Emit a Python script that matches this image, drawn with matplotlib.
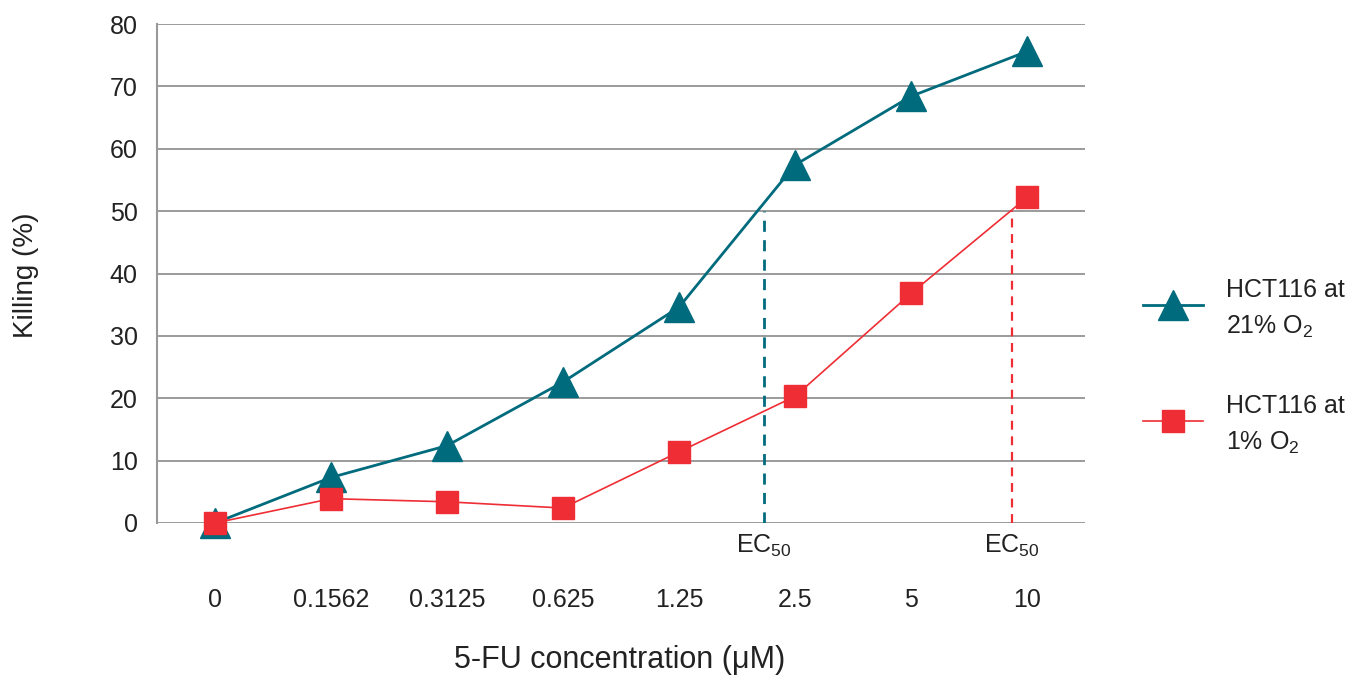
import matplotlib
matplotlib.use("Agg")
import matplotlib.pyplot as plt
from matplotlib.lines import Line2D

plt.rcParams['font.family'] = ['Liberation Sans', 'DejaVu Sans']

concentrations = ["0", "0.1562", "0.3125", "0.625", "1.25", "2.5", "5", "10"]
killing_21 = [0, 7.3, 12.4, 22.6, 34.6, 57.4, 68.4, 75.6]
killing_1 = [0, 3.9, 3.4, 2.4, 11.4, 20.3, 36.8, 52.2]
ec50_21_pos = 4.73
ec50_1_pos = 6.87
ec50_level = 50
yticks = [0, 10, 20, 30, 40, 50, 60, 70, 80]
legend_labels = ["HCT116 at\n21% O$_\\mathregular{2}$", "HCT116 at\n1% O$_\\mathregular{2}$"]

teal = "#006B7D"
red = "#EE2D34"
grid_c = "#8a8a8a"
text_c = "#222222"

W, H = 1360, 675
fig = plt.figure(figsize=(W/100, H/100), dpi=100)
ax = fig.add_axes([157/W, 1 - 523/H, (1085-157)/W, (523-24)/H])

x = list(range(len(concentrations)))
ax.plot(x, killing_21, color=teal, lw=2, marker='^', ms=21, mec=teal, mfc=teal, zorder=4, clip_on=False)
ax.plot(x, killing_1, color=red, lw=1.2, marker='s', ms=15.5, mec=red, mfc=red, zorder=5, clip_on=False)

ax.plot([ec50_21_pos, ec50_21_pos], [0, ec50_level], color=teal, ls=(0, (4, 3)), lw=2, zorder=3)
ax.plot([ec50_1_pos, ec50_1_pos], [0, ec50_level], color=red, ls=(0, (4, 3)), lw=1.6, zorder=3)

ax.set_xlim(-0.5, 7.5)
ax.set_ylim(0, 80)
ax.set_yticks(yticks)
ax.set_yticklabels([str(v) for v in yticks], fontsize=18, color=text_c)
ax.set_xticks(x)
ax.set_xticklabels(concentrations, fontsize=18, color=text_c)
ax.tick_params(axis='both', length=0)
ax.tick_params(axis='x', pad=47)
ax.tick_params(axis='y', pad=14)
ax.yaxis.grid(True, color=grid_c, lw=1.2)
ax.set_axisbelow(True)
for s in ['top', 'right', 'bottom']:
    ax.spines[s].set_visible(False)
ax.spines['left'].set_color("#999999")
ax.spines['left'].set_linewidth(1.5)

for pos in [ec50_21_pos, ec50_1_pos]:
    ax.text(pos, -1.6, r"EC$_\mathregular{50}$", ha='center', va='top', fontsize=18, color=text_c)

fig.text(620/W, 1 - 660/H, "5-FU concentration (μM)", ha='center', va='center', fontsize=22, color=text_c)
fig.text(26/W, 1 - 275/H, "Killing (%)", ha='center', va='center', rotation=90, fontsize=20, color=text_c)

# legend drawn manually
legend_y = [305, 421]
styles = [dict(color=teal, lw=2, marker='^', ms=21), dict(color=red, lw=1.2, marker='s', ms=15.5)]
for yy, st, lab in zip(legend_y, styles, legend_labels):
    fig.add_artist(Line2D([1143/W, 1203/W], [1 - yy/H, 1 - yy/H], color=st['color'], lw=st['lw'],
                          transform=fig.transFigure))
    fig.add_artist(Line2D([1173/W], [1 - yy/H], color=st['color'], marker=st['marker'], ms=st['ms'],
                          mfc=st['color'], mec=st['color'], transform=fig.transFigure, ls='none'))
    fig.text(1226/W, 1 - (yy + 4)/H, lab, ha='left', va='center', fontsize=18, color=text_c, linespacing=1.55)

fig.savefig("out.png", dpi=100)
